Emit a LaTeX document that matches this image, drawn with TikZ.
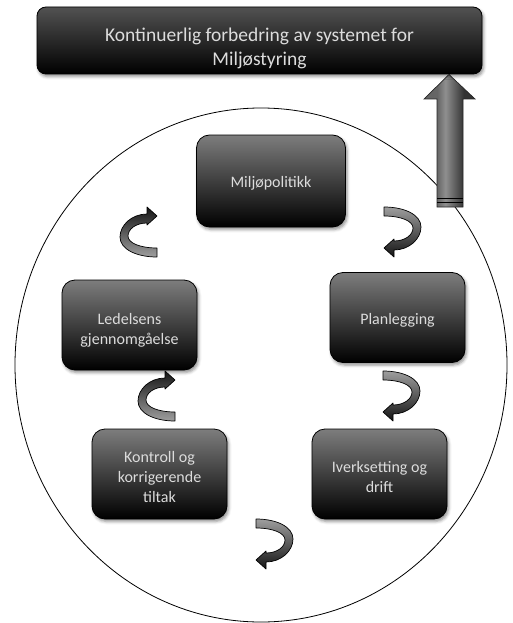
\documentclass[tikz,border=0pt]{standalone}
\usepackage{fontspec}
\setmainfont{Carlito}
\usetikzlibrary{shadows.blur}

\definecolor{labelgray}{HTML}{DCDCDC}

% horizontal shading of the upward block arrow (light strip left of centre)
\pgfdeclarehorizontalshading{shaftshade}{100bp}{%
  color(0bp)=(black!62); color(38bp)=(black!60); color(46bp)=(black!44);
  color(64bp)=(black!80); color(100bp)=(black!80)}

% curved ribbon arrow, head at the top pointing right
\newcommand\curlup[1]{%
  \begin{scope}[shift={#1}]
    \shade[curl, top color=black!92, bottom color=black!38]
      (37,50) .. controls (16,50) and (0,42) .. (0,30)
      .. controls (0,18) and (12,7) .. (27,7)
      -- (27,0) -- (37,9) -- (27,18) -- (27,16)
      .. controls (16,16) and (8,22) .. (8,29)
      .. controls (8,36) and (20,41) .. (37,41) -- cycle;
  \end{scope}}

% curved ribbon arrow, head at the bottom pointing left
\newcommand\curldown[1]{%
  \begin{scope}[shift={#1}]
    \shade[curl, top color=black!38, bottom color=black!92]
      (0,0) .. controls (21,0) and (37,8) .. (37,20)
      .. controls (37,32) and (25,43) .. (10,43)
      -- (10,50) -- (0,41) -- (10,32) -- (10,34)
      .. controls (21,34) and (29,28) .. (29,21)
      .. controls (29,14) and (17,9) .. (0,9) -- cycle;
  \end{scope}}

\begin{document}
\begin{tikzpicture}[x=1pt, y=-1pt,
  softshadow/.style={blur shadow={shadow xshift=1.5pt, shadow yshift=-2.5pt,
      shadow blur radius=3pt, shadow opacity=45}},
  stage/.style={draw=black, line width=0.8pt, rounded corners=13pt,
      top color=black!51, bottom color=black, minimum width=135pt,
      minimum height=90pt, inner sep=0pt, softshadow},
  stagetext/.style={text=labelgray, align=center,
      font=\fontsize{16}{20}\selectfont},
  banner/.style={draw=black, line width=0.8pt, rounded corners=9pt,
      top color=black!68, bottom color=black, minimum width=445pt,
      minimum height=67pt, inner sep=0pt, softshadow},
  bannertext/.style={text=labelgray, align=center,
      font=\fontsize{19.5}{24}\selectfont},
  curl/.style={draw=black, line width=0.7pt, line join=round},
  blockarrow/.style={draw=black!85, line width=0.7pt, shading=shaftshade}]

\useasboundingbox (0,0) rectangle (512,623);

% the cycle ring
\draw[line width=0.8pt] (261,365) ellipse [x radius=246pt, y radius=257pt];

% boxes of the cycle
\node[stage, minimum width=149pt, minimum height=92pt] (policy) at (271,181) {};
\node[stage] (plan)   at (397.5,317.5) {};
\node[stage] (review) at (129.5,325) {};
\node[stage] (check)  at (159.5,474) {};
\node[stage] (doit)   at (379.5,474) {};

\node[stagetext] (policytxt) at ([yshift=-2pt]policy.center) {Miljøpolitikk};
\node[stagetext] (plantxt)   at ([yshift=-3pt]plan.center) {Planlegging};
\node[stagetext] (reviewtxt) at ([yshift=-5pt]review.center) {Ledelsens\\gjennomgåelse};
\node[stagetext] (checktxt)  at ([yshift=-3pt]check.center) {Kontroll og\\korrigerende\\tiltak};
\node[stagetext] (doittxt)   at ([yshift=-3pt]doit.center) {Iverksetting og\\drift};

% curved arrows between the stages
\curlup{(120,207)}
\curlup{(138,371)}
\curldown{(384,207)}
\curldown{(383,371)}
\curldown{(256,519)}

% block arrow up to the improvement banner
\shade[blockarrow] (437,207) -- (437,99) -- (424,99) -- (449,74.5)
  -- (475,99) -- (463,99) -- (463,207) -- cycle;
\draw[line width=1pt] (437,198) -- (463,198);
\draw[line width=1pt] (437,202) -- (463,202);

% improvement banner
\node[banner] (goal) at (259.5,40.5) {};
\node[bannertext] (goaltxt) at ([yshift=-8pt]goal.center)
  {Kontinuerlig forbedring av systemet for\\Miljøstyring};

\end{tikzpicture}
\end{document}
